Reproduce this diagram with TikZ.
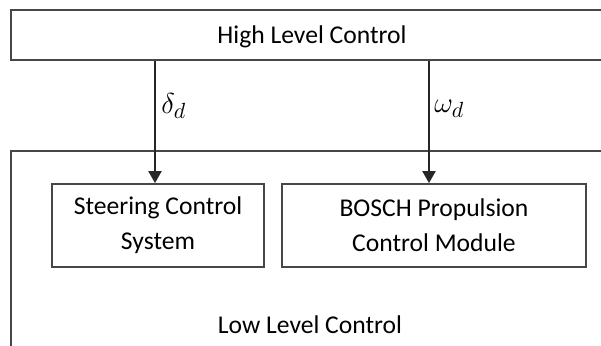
\documentclass[tikz,border=0pt]{standalone}
\usepackage{fontspec}
\setmainfont{Carlito}
\usetikzlibrary{arrows.meta}
\tikzset{
  box/.style={draw=black!72, line width=0.9pt, fill=white, inner sep=0pt, align=center,
    font=\fontsize{12.8pt}{17.5pt}\selectfont},
  txt/.style={inner sep=0pt, font=\fontsize{12.8pt}{17.5pt}\selectfont},
  lbl/.style={inner sep=0pt, font=\fontsize{15.5pt}{18pt}\selectfont},
  arr/.style={draw=black!85, line width=1pt, -{Triangle[width=6.5pt,length=6pt]}}
}
\begin{document}
\begin{tikzpicture}[x=0.5pt, y=-0.5pt]
\clip (0,0) rectangle (601,345);
\fill[white] (0,0) rectangle (601,345);
% outer boxes (extend past the right/bottom edge)
\node[box, minimum width=310pt, minimum height=25pt] (high) at (321,35) {};
\node[txt, anchor=base] (hightext) at (312,43) {High Level Control};
\node[box, minimum width=310pt, minimum height=110pt] (low) at (321,261) {};
\node[txt, anchor=base] (lowtext) at (310,333) {Low Level Control};
% inner boxes
\node[box, minimum width=106pt, minimum height=41.5pt] (steer) at (158,225.5) {Steering Control\\System};
\node[box, minimum width=152pt, minimum height=41.5pt] (bosch) at (434,225.5) {BOSCH Propulsion\\Control Module};
% arrows
\draw[arr] ([xshift=-1.5pt]steer.north |- high.south) -- ([xshift=-1.5pt]steer.north);
\draw[arr] ([xshift=-2.5pt]bosch.north |- high.south) -- ([xshift=-2.5pt]bosch.north);
\node[lbl, anchor=west] (dlabel) at (161,106) {$\delta_d$};
\node[lbl, anchor=west] (wlabel) at (434,109) {$\omega_d$};
\end{tikzpicture}
\end{document}
